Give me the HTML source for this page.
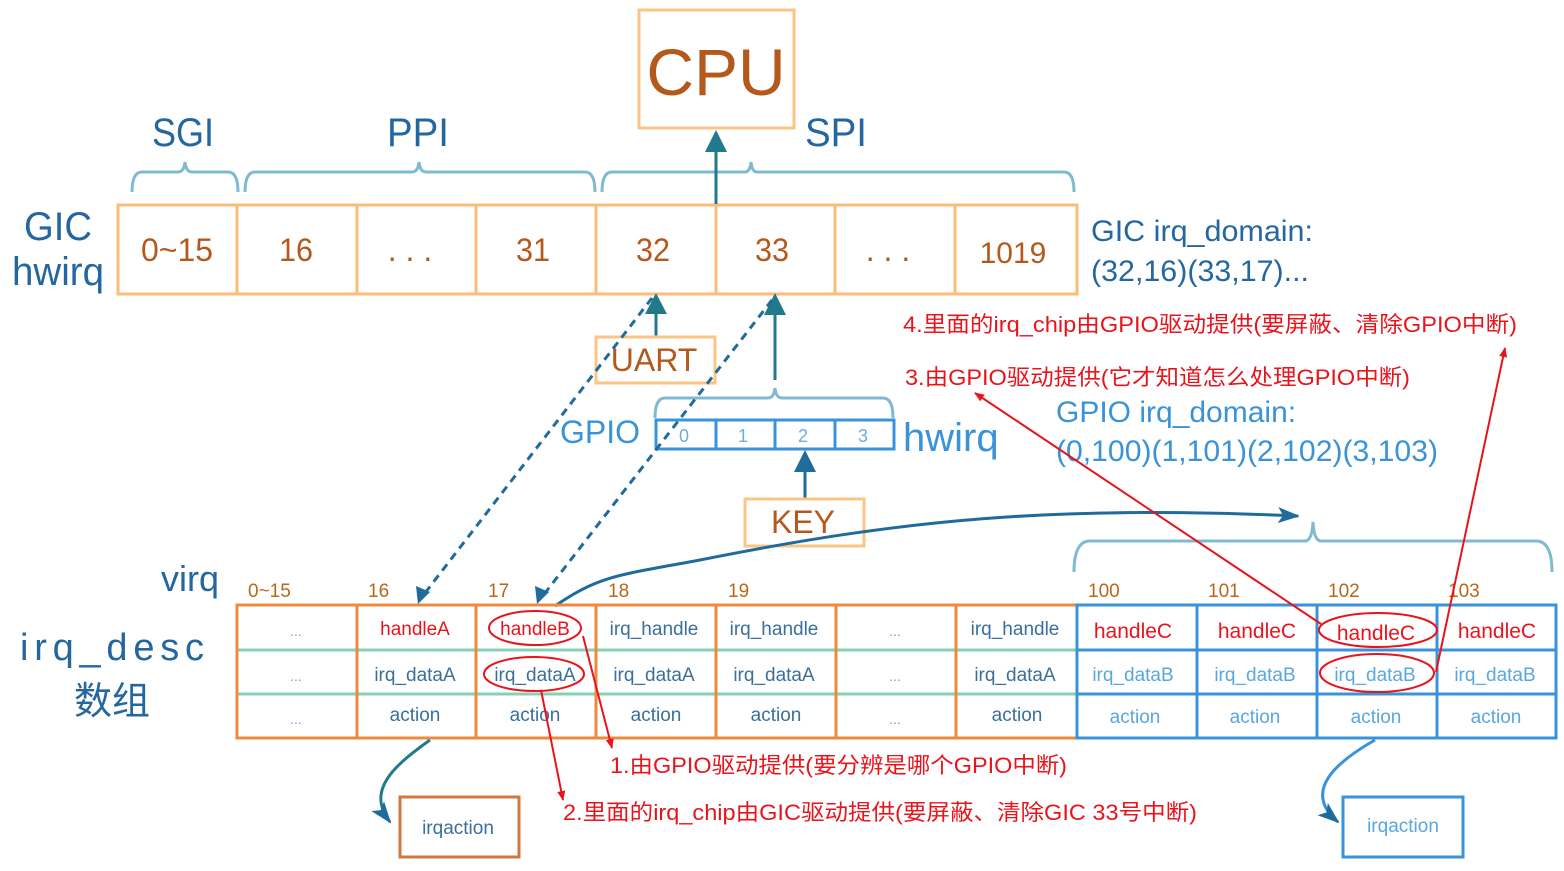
<!DOCTYPE html>
<html><head><meta charset="utf-8"><style>
html,body{margin:0;padding:0;background:#fff;}
svg{display:block;}
text{font-family:"Liberation Sans","Noto Sans CJK SC",sans-serif;}
</style></head><body>
<svg width="1564" height="871" viewBox="0 0 1564 871" xmlns="http://www.w3.org/2000/svg">
<defs>
<marker id="ba" markerWidth="22" markerHeight="22" refX="20" refY="11" orient="auto" markerUnits="userSpaceOnUse"><path d="M0,3 L22,11 L0,19 L5,11 Z" fill="#1f6b9c"/></marker>
<marker id="ra" markerWidth="10" markerHeight="10" refX="9" refY="5" orient="auto" markerUnits="userSpaceOnUse"><path d="M0,1 L10,5 L0,9 Z" fill="#e8141c"/></marker>
</defs>

<!-- CPU -->
<rect x="639" y="10" width="155" height="118" fill="none" stroke="#fcc584" stroke-width="3"/>
<text x="716" y="95" font-size="66" fill="#b5581c" text-anchor="middle">CPU</text>

<g fill="#2366a0" font-size="40" text-anchor="middle">
<text x="183" y="146" textLength="62" lengthAdjust="spacingAndGlyphs">SGI</text>
<text x="418" y="146" textLength="62" lengthAdjust="spacingAndGlyphs">PPI</text>
<text x="836" y="146" textLength="62" lengthAdjust="spacingAndGlyphs">SPI</text>
<text x="58" y="240" textLength="68" lengthAdjust="spacingAndGlyphs">GIC</text>
<text x="58" y="285" textLength="92" lengthAdjust="spacingAndGlyphs">hwirq</text>
</g>

<g fill="none" stroke="#7fbad0" stroke-width="3">
<path d="M132,192 Q132,172 142,172 L178,172 Q184,172 185,162 Q186,172 192,172 L228,172 Q238,172 238,192"/>
<path d="M245,192 Q245,172 255,172 L412,172 Q418,172 419,162 Q420,172 426,172 L585,172 Q595,172 595,192"/>
<path d="M602,192 Q602,172 612,172 L745,172 Q750,172 751,162 Q752,172 757,172 L1064,172 Q1074,172 1074,192"/>
<path d="M655,418 Q655,398 665,398 L768,398 Q774,398 775,388 Q776,398 782,398 L883,398 Q893,398 893,418"/>
<path d="M1074,572 Q1074,541 1090,541 L1305,541 Q1312,541 1313,522 Q1314,541 1321,541 L1536,541 Q1552,541 1552,572"/>
</g>

<g fill="none" stroke="#fcbb78" stroke-width="3">
<rect x="118" y="205" width="959" height="89"/>
<path d="M237,205V294M357,205V294M476,205V294M596,205V294M716,205V294M835,205V294M955,205V294"/>
</g>
<g fill="#b5581c" font-size="32" text-anchor="middle">
<text x="177" y="261" textLength="72" lengthAdjust="spacingAndGlyphs">0~15</text>
<text x="296" y="261" textLength="34" lengthAdjust="spacingAndGlyphs">16</text>
<text x="410" y="261">. . .</text>
<text x="533" y="261" textLength="34" lengthAdjust="spacingAndGlyphs">31</text>
<text x="653" y="261" textLength="34" lengthAdjust="spacingAndGlyphs">32</text>
<text x="772" y="261" textLength="34" lengthAdjust="spacingAndGlyphs">33</text>
<text x="888" y="261">. . .</text>
<text x="1013" y="263" font-family="Liberation Serif" font-size="30">1019</text>
</g>
<g fill="#2366a0" font-size="30">
<text x="1091" y="241" textLength="222" lengthAdjust="spacingAndGlyphs">GIC irq_domain:</text>
<text x="1091" y="281" textLength="218" lengthAdjust="spacingAndGlyphs">(32,16)(33,17)...</text>
</g>

<!-- arrows teal -->
<g stroke="#217a8c" stroke-width="3" fill="none">
<line x1="716" y1="204" x2="716" y2="148"/>
<line x1="656" y1="337" x2="656" y2="310"/>
<line x1="775" y1="380" x2="775" y2="312"/>
</g>
<g fill="#217a8c">
<path d="M716,130 L705,152 L727,152 Z"/>
<path d="M656,293 L645,314 L667,314 Z"/>
<path d="M775,293 L764,315 L786,315 Z"/>
</g>
<line x1="805" y1="499" x2="805" y2="468" stroke="#1f6b9c" stroke-width="3"/>
<path d="M805,450 L794,472 L816,472 Z" fill="#1f6b9c"/>

<rect x="596" y="337" width="119" height="46" fill="none" stroke="#fcc584" stroke-width="3"/>
<text x="654" y="371" font-size="32" fill="#b5581c" text-anchor="middle">UART</text>
<rect x="745" y="499" width="119" height="47" fill="none" stroke="#fcc584" stroke-width="3"/>
<text x="803" y="533" font-size="32" fill="#b5581c" text-anchor="middle">KEY</text>

<text x="600" y="443" font-size="32" fill="#3a93d8" text-anchor="middle">GPIO</text>
<g fill="none" stroke="#3a93d8" stroke-width="3">
<rect x="656" y="420" width="238" height="29"/>
<path d="M716,420V449M775,420V449M835,420V449"/>
</g>
<g fill="#6aaee0" font-size="18" text-anchor="middle">
<text x="684" y="442" font-family="Liberation Serif">0</text>
<text x="743" y="442" font-family="Liberation Serif">1</text>
<text x="803" y="442" font-family="Liberation Serif">2</text>
<text x="863" y="442" font-family="Liberation Serif">3</text>
</g>
<text x="903" y="451" font-size="40" fill="#3a93d8">hwirq</text>
<g fill="#3a93d8" font-size="30">
<text x="1056" y="422">GPIO irq_domain:</text>
<text x="1056" y="461" textLength="382" lengthAdjust="spacingAndGlyphs">(0,100)(1,101)(2,102)(3,103)</text>
</g>

<g stroke="#1f6b9c" stroke-width="3" fill="none" stroke-dasharray="8,6">
<line x1="652" y1="298" x2="425" y2="593"/>
<line x1="772" y1="300" x2="545" y2="593"/>
</g>
<path d="M418,604 L416,586 L430,592 Z" fill="#1f6b9c"/>
<path d="M537,604 L535,586 L549,592 Z" fill="#1f6b9c"/>

<path d="M555,606 C600,575 620,575 700,560 C900,520 1050,505 1298,516" fill="none" stroke="#1f6b9c" stroke-width="3" marker-end="url(#ba)"/>

<text x="190" y="591" font-size="36" fill="#2366a0" text-anchor="middle">virq</text>
<g font-size="19" fill="#b5681c">
<text x="248" y="597">0~15</text><text x="368" y="597">16</text><text x="488" y="597">17</text>
<text x="608" y="597">18</text><text x="728" y="597">19</text>
<text x="1088" y="597">100</text><text x="1208" y="597">101</text><text x="1328" y="597">102</text><text x="1448" y="597">103</text>
</g>
<text x="112" y="660" font-size="38" fill="#2366a0" font-family="Liberation Serif" text-anchor="middle" textLength="184" lengthAdjust="spacing">irq_desc</text>
<text x="112" y="714" font-size="38" fill="#2366a0" font-family="Noto Serif CJK SC,serif" text-anchor="middle">数组</text>

<g stroke="#88d0b4" stroke-width="3">
<line x1="237" y1="650" x2="1077" y2="650"/><line x1="237" y1="694" x2="1077" y2="694"/>
</g>
<g fill="none" stroke="#ee8a3e" stroke-width="3">
<rect x="237" y="605" width="840" height="133"/>
<path d="M357,605V738M476,605V738M596,605V738M716,605V738M836,605V738M956,605V738"/>
</g>
<g fill="none" stroke="#3a93d8" stroke-width="3">
<rect x="1077" y="605" width="479" height="133"/>
<path d="M1197,605V738M1317,605V738M1437,605V738M1077,650H1556M1077,694H1556"/>
</g>
<g font-size="19" text-anchor="middle" fill="#3a6f9c">
<text x="296" y="636" fill="#6a9fd0" font-size="14">...</text>
<text x="296" y="681" fill="#6a9fd0" font-size="14">...</text>
<text x="296" y="724" fill="#6a9fd0" font-size="14">...</text>
<text x="415" y="635" fill="#e8141c">handleA</text>
<text x="535" y="635" fill="#e8141c">handleB</text>
<text x="654" y="635">irq_handle</text>
<text x="774" y="635">irq_handle</text>
<text x="895" y="636" fill="#6a9fd0" font-size="14">...</text>
<text x="1015" y="635">irq_handle</text>
<text x="415" y="681">irq_dataA</text><text x="535" y="681">irq_dataA</text><text x="654" y="681">irq_dataA</text><text x="774" y="681">irq_dataA</text>
<text x="895" y="681" fill="#6a9fd0" font-size="14">...</text>
<text x="1015" y="681">irq_dataA</text>
<text x="415" y="721">action</text><text x="535" y="721">action</text><text x="656" y="721">action</text><text x="776" y="721">action</text>
<text x="895" y="724" fill="#6a9fd0" font-size="14">...</text>
<text x="1017" y="721">action</text>
</g>
<g font-size="21" text-anchor="middle">
<g fill="#e8141c"><text x="1133" y="638">handleC</text><text x="1257" y="638">handleC</text><text x="1376" y="640">handleC</text><text x="1497" y="638">handleC</text></g>
<g fill="#5aa6e0" font-size="19"><text x="1133" y="681">irq_dataB</text><text x="1255" y="681">irq_dataB</text><text x="1375" y="681">irq_dataB</text><text x="1495" y="681">irq_dataB</text>
<text x="1135" y="723">action</text><text x="1255" y="723">action</text><text x="1376" y="723">action</text><text x="1496" y="723">action</text></g>
</g>

<g fill="none" stroke="#e8141c" stroke-width="2">
<ellipse cx="535" cy="628" rx="46" ry="17"/>
<ellipse cx="534" cy="674" rx="50" ry="17"/>
<ellipse cx="1378" cy="630" rx="59" ry="17"/>
<ellipse cx="1377" cy="673" rx="57" ry="19"/>
</g>

<path d="M430,740 C395,765 365,790 390,822" fill="none" stroke="#217a8c" stroke-width="3" marker-end="url(#ba)"/>
<rect x="400" y="797" width="119" height="60" fill="none" stroke="#d0783c" stroke-width="3"/>
<text x="458" y="834" font-size="19" fill="#3a6f9c" text-anchor="middle">irqaction</text>
<path d="M1375,740 C1340,760 1300,790 1338,822" fill="none" stroke="#3a93d8" stroke-width="3" marker-end="url(#ba)"/>
<rect x="1343" y="797" width="120" height="60" fill="none" stroke="#3a93d8" stroke-width="3"/>
<text x="1403" y="832" font-size="19" fill="#5aa6e0" text-anchor="middle">irqaction</text>

<g stroke="#e8141c" stroke-width="2" fill="none" marker-end="url(#ra)">
<line x1="583" y1="636" x2="612" y2="748"/>
<line x1="541" y1="690" x2="563" y2="800"/>
<line x1="1321" y1="624" x2="975" y2="393"/>
<line x1="1436" y1="672" x2="1505" y2="348"/>
</g>
<g fill="#e8141c" font-size="22">
<text x="903" y="332" textLength="614" lengthAdjust="spacingAndGlyphs">4.里面的irq_chip由GPIO驱动提供(要屏蔽、清除GPIO中断)</text>
<text x="905" y="385" textLength="505" lengthAdjust="spacingAndGlyphs">3.由GPIO驱动提供(它才知道怎么处理GPIO中断)</text>
<text x="610" y="773" textLength="457" lengthAdjust="spacingAndGlyphs">1.由GPIO驱动提供(要分辨是哪个GPIO中断)</text>
<text x="563" y="820" textLength="634" lengthAdjust="spacingAndGlyphs">2.里面的irq_chip由GIC驱动提供(要屏蔽、清除GIC 33号中断)</text>
</g>
</svg>
</body></html>
